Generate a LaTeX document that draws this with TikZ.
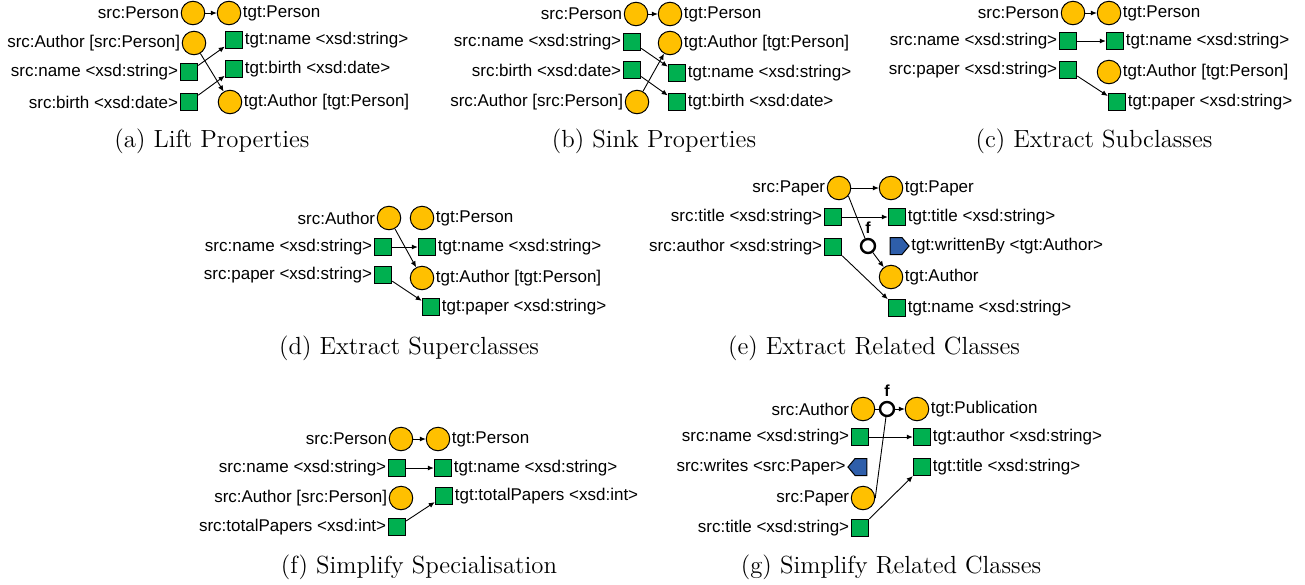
\documentclass[tikz,border=0pt]{standalone}
\usepackage{fontspec}
\newfontfamily\arial{Liberation Sans}
\usetikzlibrary{positioning,arrows.meta,shapes.symbols}
\definecolor{clsfill}{RGB}{255,192,0}
\definecolor{propfill}{RGB}{0,176,80}
\definecolor{reffill}{RGB}{46,94,170}
\tikzset{
  cls/.style={circle,draw,fill=clsfill,minimum size=11.75pt,inner sep=0pt,line width=0.5pt},
  prop/.style={rectangle,draw,fill=propfill,minimum size=8.75pt,inner sep=0pt,line width=0.5pt},
  fn/.style={circle,draw,fill=white,minimum size=7pt,inner sep=0pt,line width=1.2pt},
  refto/.style={signal,signal to=#1,signal from=nowhere,draw,fill=reffill,minimum width=9.5pt,minimum height=8.5pt,inner sep=0pt,signal pointer angle=100,line width=0.5pt},
  txt/.style={font=\arial\fontsize{8.5}{10}\selectfont,inner sep=0.6pt},
  flbl/.style={font=\arial\bfseries\fontsize{8}{9}\selectfont,inner sep=0pt},
  arr/.style={-{Latex[length=3pt,width=2.6pt]},line width=0.45pt},
  lnk/.style={line width=0.45pt},
  captxt/.style={font=\fontsize{12.4}{14}\selectfont,inner sep=0pt}
}
\begin{document}
\begin{tikzpicture}[x=0.5pt,y=-0.5pt]
\useasboundingbox (0,0) rectangle (1305,584);

% (a) Lift Properties
\node[cls] (a1) at (193,13) {};
\node[cls] (a2) at (229,13) {};
\node[cls] (a3) at (194,43) {};
\node[prop] (a4) at (234,40) {};
\node[prop] (a5) at (234,69) {};
\node[prop] (a6) at (189,72) {};
\node[prop] (a7) at (189,102) {};
\node[cls] (a8) at (230,102) {};
\node[txt,left=0pt of a1] (a1t) {src:Person};
\node[txt,right=0pt of a2] (a2t) {tgt:Person};
\node[txt,left=0pt of a3] (a3t) {src:Author [src:Person]};
\node[txt,right=0pt of a4] (a4t) {tgt:name <xsd:string>};
\node[txt,right=0pt of a5] (a5t) {tgt:birth <xsd:date>};
\node[txt,left=0pt of a6] (a6t) {src:name <xsd:string>};
\node[txt,left=0pt of a7] (a7t) {src:birth <xsd:date>};
\node[txt,right=0pt of a8] (a8t) {tgt:Author [tgt:Person]};
\draw[arr] (a1) -- (a2);
\draw[arr] (a3) -- (a8);
\draw[arr] (a6) -- (a4);
\draw[arr] (a7) -- (a5);
\node[captxt] (acap) at (212,141) {(a) Lift Properties};

% (b) Sink Properties
\node[cls] (b1) at (636,14) {};
\node[cls] (b2) at (670,14) {};
\node[prop] (b3) at (632,42) {};
\node[cls] (b4) at (670,43) {};
\node[prop] (b5) at (632,70) {};
\node[prop] (b6) at (677,73) {};
\node[cls] (b7) at (637,102) {};
\node[prop] (b8) at (677,102) {};
\node[txt,left=0pt of b1] (b1t) {src:Person};
\node[txt,right=0pt of b2] (b2t) {tgt:Person};
\node[txt,left=0pt of b3] (b3t) {src:name <xsd:string>};
\node[txt,right=0pt of b4] (b4t) {tgt:Author [tgt:Person]};
\node[txt,left=0pt of b5] (b5t) {src:birth <xsd:date>};
\node[txt,right=0pt of b6] (b6t) {tgt:name <xsd:string>};
\node[txt,left=0pt of b7] (b7t) {src:Author [src:Person]};
\node[txt,right=0pt of b8] (b8t) {tgt:birth <xsd:date>};
\draw[arr] (b1) -- (b2);
\draw[arr] (b3) -- (b6);
\draw[arr] (b5) -- (b8);
\draw[arr] (b7) -- (b4);
\node[captxt] (bcap) at (654,141) {(b) Sink Properties};

% (c) Extract Subclasses
\node[cls] (c1) at (1073,13) {};
\node[cls] (c2) at (1109,13) {};
\node[prop] (c3) at (1068,41) {};
\node[prop] (c4) at (1115,41) {};
\node[prop] (c5) at (1068,70) {};
\node[cls] (c6) at (1109,72) {};
\node[prop] (c7) at (1117,102) {};
\node[txt,left=0pt of c1] (c1t) {src:Person};
\node[txt,right=0pt of c2] (c2t) {tgt:Person};
\node[txt,left=0pt of c3] (c3t) {src:name <xsd:string>};
\node[txt,right=0pt of c4] (c4t) {tgt:name <xsd:string>};
\node[txt,left=0pt of c5] (c5t) {src:paper <xsd:string>};
\node[txt,right=0pt of c6] (c6t) {tgt:Author [tgt:Person]};
\node[txt,right=0pt of c7] (c7t) {tgt:paper <xsd:string>};
\draw[arr] (c1) -- (c2);
\draw[arr] (c3) -- (c4);
\draw[arr] (c5) -- (c7);
\node[captxt] (ccap) at (1094,141) {(c) Extract Subclasses};

% (d) Extract Superclasses
\node[cls] (d1) at (389,218) {};
\node[cls] (d2) at (422,218) {};
\node[prop] (d3) at (383,247) {};
\node[prop] (d4) at (427,247) {};
\node[prop] (d5) at (383,275) {};
\node[cls] (d6) at (422,278) {};
\node[prop] (d7) at (431,307) {};
\node[txt,left=0pt of d1] (d1t) {src:Author};
\node[txt,right=0pt of d2] (d2t) {tgt:Person};
\node[txt,left=0pt of d3] (d3t) {src:name <xsd:string>};
\node[txt,right=0pt of d4] (d4t) {tgt:name <xsd:string>};
\node[txt,left=0pt of d5] (d5t) {src:paper <xsd:string>};
\node[txt,right=0pt of d6] (d6t) {tgt:Author [tgt:Person]};
\node[txt,right=0pt of d7] (d7t) {tgt:paper <xsd:string>};
\draw[arr] (d1) -- (d6);
\draw[arr] (d3) -- (d4);
\draw[arr] (d5) -- (d7);
\node[captxt] (dcap) at (409,348) {(d) Extract Superclasses};

% (e) Extract Related Classes
\node[cls] (e1) at (839,188) {};
\node[cls] (e2) at (891,188) {};
\node[prop] (e3) at (833,217) {};
\node[prop] (e4) at (897,217) {};
\node[prop] (e5) at (833,247) {};
\node[fn] (ef) at (868,246) {};
\node[flbl] (eft) at (868,228) {f};
\node[refto=east] (e6) at (896,246) {};
\node[cls] (e7) at (891,277) {};
\node[prop] (e8) at (897,308) {};
\node[txt,left=0pt of e1] (e1t) {src:Paper};
\node[txt,right=0pt of e2] (e2t) {tgt:Paper};
\node[txt,left=0pt of e3] (e3t) {src:title <xsd:string>};
\node[txt,right=0pt of e4] (e4t) {tgt:title <xsd:string>};
\node[txt,left=0pt of e5] (e5t) {src:author <xsd:string>};
\node[txt,right=0pt of e6] (e6t) {tgt:writtenBy <tgt:Author>};
\node[txt,right=0pt of e7] (e7t) {tgt:Author};
\node[txt,right=0pt of e8] (e8t) {tgt:name <xsd:string>};
\draw[arr] (e1) -- (e2);
\draw[arr] (e3) -- (e4);
\draw[lnk] (e1.-40) -- (ef);
\draw[arr] (ef) -- (e7);
\draw[arr] (e5) -- (e8);
\node[captxt] (ecap) at (874,348) {(e) Extract Related Classes};

% (f) Simplify Specialisation
\node[cls] (f1) at (401,439) {};
\node[cls] (f2) at (438,439) {};
\node[prop] (f3) at (397,468) {};
\node[prop] (f4) at (443,468) {};
\node[cls] (f5) at (401,498) {};
\node[prop] (f6) at (444,496) {};
\node[prop] (f7) at (397,527) {};
\node[txt,left=0pt of f1] (f1t) {src:Person};
\node[txt,right=0pt of f2] (f2t) {tgt:Person};
\node[txt,left=0pt of f3] (f3t) {src:name <xsd:string>};
\node[txt,right=0pt of f4] (f4t) {tgt:name <xsd:string>};
\node[txt,left=0pt of f5] (f5t) {src:Author [src:Person]};
\node[txt,right=0pt of f6] (f6t) {tgt:totalPapers <xsd:int>};
\node[txt,left=0pt of f7] (f7t) {src:totalPapers <xsd:int>};
\draw[arr] (f1) -- (f2);
\draw[arr] (f3) -- (f4);
\draw[arr] (f7) -- (f6);
\node[captxt] (fcap) at (419,567) {(f) Simplify Specialisation};

% (g) Simplify Related Classes
\node[cls] (g1) at (863,409) {};
\node[fn] (gf) at (887,409) {};
\node[flbl] (gft) at (887,391) {f};
\node[cls] (g2) at (917,409) {};
\node[prop] (g3) at (860,437) {};
\node[prop] (g4) at (922,437) {};
\node[refto=west] (g5) at (861,467) {};
\node[prop] (g6) at (922,467) {};
\node[cls] (g7) at (863,498) {};
\node[prop] (g8) at (860,528) {};
\node[txt,left=0pt of g1] (g1t) {src:Author};
\node[txt,right=0pt of g2] (g2t) {tgt:Publication};
\node[txt,left=0pt of g3] (g3t) {src:name <xsd:string>};
\node[txt,right=0pt of g4] (g4t) {tgt:author <xsd:string>};
\node[txt,left=0pt of g5] (g5t) {src:writes <src:Paper>};
\node[txt,right=0pt of g6] (g6t) {tgt:title <xsd:string>};
\node[txt,left=0pt of g7] (g7t) {src:Paper};
\node[txt,left=0pt of g8] (g8t) {src:title <xsd:string>};
\draw[lnk] (g1) -- (gf);
\draw[arr] (gf) -- (g2);
\draw[lnk] (g7.east) -- (gf);
\draw[arr] (g3) -- (g4);
\draw[arr] (g8) -- (g6);
\node[captxt] (gcap) at (891,567) {(g) Simplify Related Classes};
\end{tikzpicture}
\end{document}
